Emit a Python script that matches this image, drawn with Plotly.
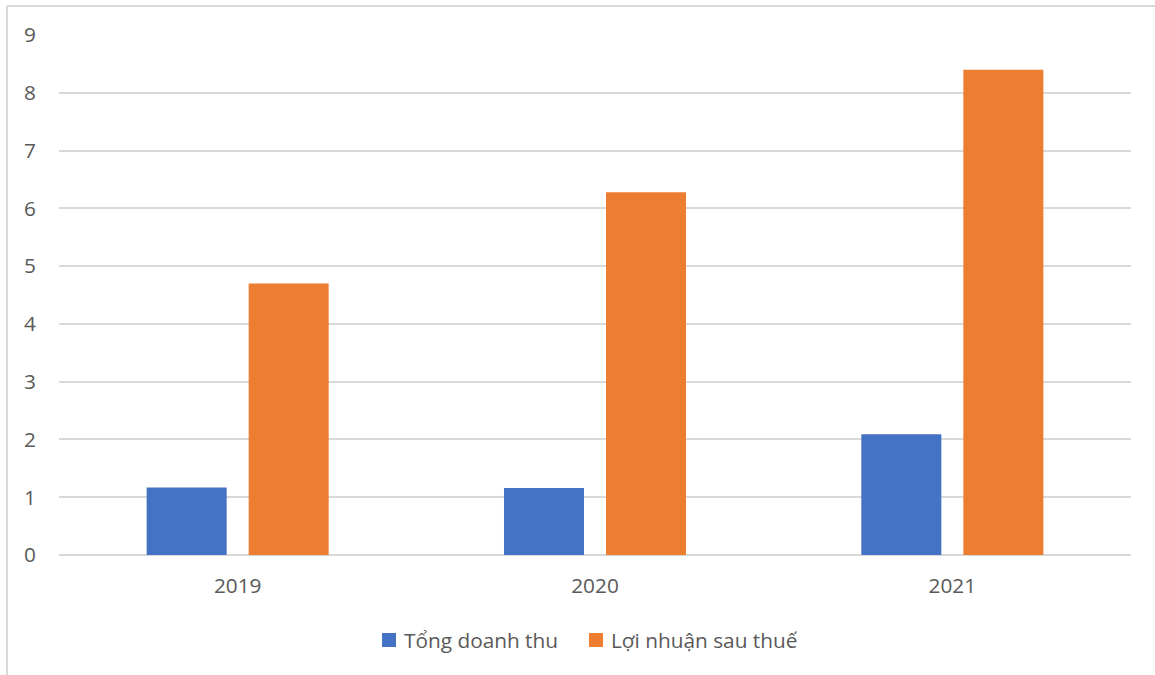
import plotly.graph_objects as go

years = ["2019", "2020", "2021"]
tong_doanh_thu = [1.17, 1.16, 2.09]
loi_nhuan_sau_thue = [4.70, 6.28, 8.40]
y_ticks = list(range(0, 10))
series_names = ["Tổng doanh thu", "Lợi nhuận sau thuế"]
series_colors = ["#4472C4", "#ED7D31"]

FONT = "Open Sans"
FONT_SIZE = 20.8
TEXT_COLOR = "#595959"
GRID_COLOR = "#d9d9d9"

fig = go.Figure()
for name, vals, color in zip(series_names, [tong_doanh_thu, loi_nhuan_sau_thue], series_colors):
    fig.add_trace(go.Bar(name=name, x=years, y=vals,
                         marker=dict(color=color, line=dict(width=0))))

L, R, T, B = 59, 24, 35, 120
W, H = 1155, 675
pw, ph = W - L - R, H - T - B

def px_x(p):
    return (p - L) / pw

def px_y(p):
    return (H - B - p) / ph

# chart frame (top and left edges visible)
fig.add_shape(type="line", xref="paper", yref="paper",
              x0=px_x(7), x1=px_x(1160), y0=px_y(6), y1=px_y(6),
              line=dict(color=GRID_COLOR, width=2))
fig.add_shape(type="line", xref="paper", yref="paper",
              x0=px_x(7), x1=px_x(7), y0=px_y(6), y1=px_y(680),
              line=dict(color=GRID_COLOR, width=2))

# legend: coloured squares followed by series names
legend_square_x = [382, 589]
for sx, name, color in zip(legend_square_x, series_names, series_colors):
    fig.add_shape(type="rect", xref="paper", yref="paper",
                  x0=px_x(sx), x1=px_x(sx + 14), y0=px_y(633), y1=px_y(647),
                  fillcolor=color, line=dict(width=0))
    fig.add_annotation(xref="paper", yref="paper", x=px_x(sx + 20), y=px_y(640),
                       xanchor="left", yanchor="middle", showarrow=False,
                       text=name,
                       font=dict(family=FONT, size=FONT_SIZE, color=TEXT_COLOR))

fig.update_layout(
    width=W, height=H,
    margin=dict(l=L, r=R, t=T, b=B, pad=0),
    paper_bgcolor="white", plot_bgcolor="white",
    barmode="group", bargap=0.429, bargroupgap=0.2157,
    font=dict(family=FONT, size=FONT_SIZE, color=TEXT_COLOR),
    showlegend=False,
    xaxis=dict(showgrid=False, showline=False, zeroline=False,
               ticks="", ticklabelstandoff=16,
               tickfont=dict(family=FONT, size=FONT_SIZE, color=TEXT_COLOR)),
    yaxis=dict(range=[0, 9], tickvals=y_ticks, showgrid=True,
               gridcolor=GRID_COLOR, gridwidth=1.5,
               zeroline=True, zerolinecolor=GRID_COLOR, zerolinewidth=1.5,
               showline=False, ticks="", ticklabelstandoff=22,
               tickfont=dict(family=FONT, size=FONT_SIZE, color=TEXT_COLOR)),
)

fig.write_html("out.html")
